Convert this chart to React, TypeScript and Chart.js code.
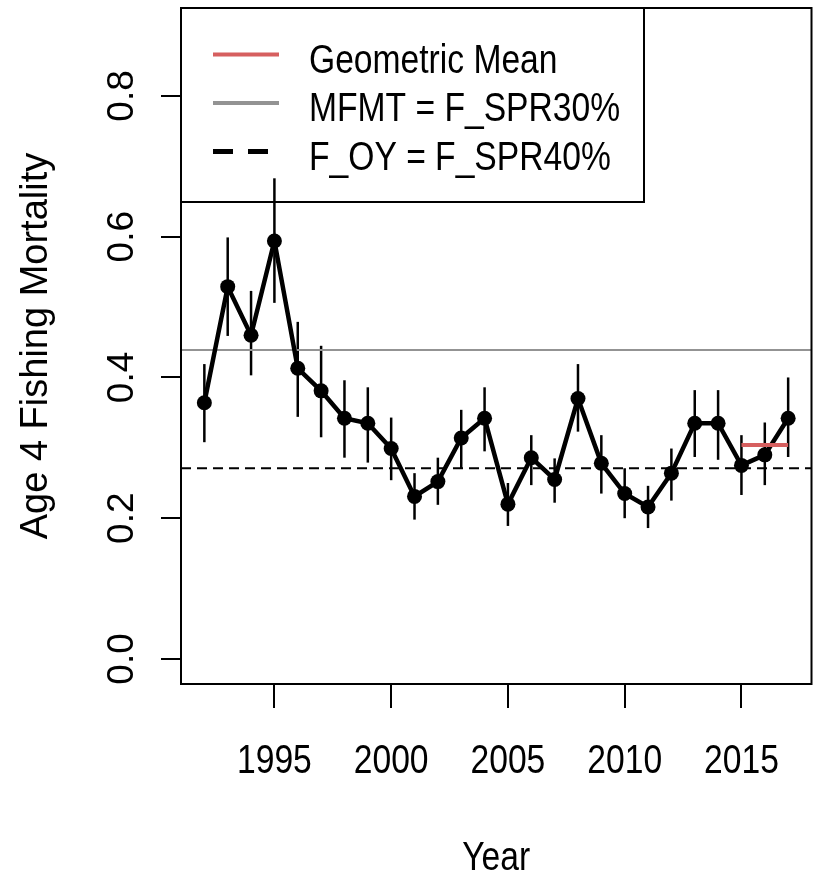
import React, { useEffect, useRef } from "react";
import { Chart, registerables } from "chart.js";

Chart.register(...registerables);

// ---------------- data ----------------
const years = [
  1992, 1993, 1994, 1995, 1996, 1997, 1998, 1999, 2000, 2001, 2002, 2003, 2004,
  2005, 2006, 2007, 2008, 2009, 2010, 2011, 2012, 2013, 2014, 2015, 2016, 2017,
];
const fishingMortality = [
  0.364, 0.529, 0.46, 0.594, 0.413, 0.381, 0.342, 0.335, 0.299, 0.231, 0.252,
  0.314, 0.342, 0.22, 0.286, 0.255, 0.37, 0.278, 0.235, 0.216, 0.264, 0.335,
  0.335, 0.275, 0.29, 0.342,
];
const upperCI = [
  0.419, 0.599, 0.523, 0.683, 0.479, 0.445, 0.396, 0.386, 0.343, 0.264, 0.286,
  0.354, 0.386, 0.25, 0.318, 0.285, 0.419, 0.318, 0.271, 0.246, 0.299, 0.382,
  0.382, 0.318, 0.336, 0.4,
];
const lowerCI = [
  0.308, 0.459, 0.403, 0.506, 0.344, 0.315, 0.286, 0.279, 0.254, 0.198, 0.219,
  0.271, 0.295, 0.189, 0.247, 0.222, 0.323, 0.235, 0.2, 0.186, 0.225, 0.287,
  0.283, 0.233, 0.247, 0.287,
];
const mfmtValue = 0.439; // MFMT = F_SPR30%
const foyValue = 0.271; // F_OY = F_SPR40%
const geoMeanYears = [2015, 2017];
const geoMeanValue = 0.304;

const xTicks = [1995, 2000, 2005, 2010, 2015];
const xTickLabels = ["1995", "2000", "2005", "2010", "2015"];
const yTicks = [0, 0.2, 0.4, 0.6, 0.8];
const yTickLabels = ["0.0", "0.2", "0.4", "0.6", "0.8"];
const legendLabels = ["Geometric Mean", "MFMT = F_SPR30%", "F_OY = F_SPR40%"];
const xTitle = "Year";
const yTitle = "Age 4 Fishing Mortality";

// ---------------- styles ----------------
const FONT = '"Liberation Sans", Arial, Helvetica, sans-serif';
const RED = "#d65f5f";
const GREY = "#939393";
const NARROW = 0.82;

function narrowText(
  ctx: CanvasRenderingContext2D,
  text: string,
  x: number,
  y: number,
  size: number,
  align: CanvasTextAlign
) {
  ctx.save();
  ctx.font = `${size}px ${FONT}`;
  ctx.fillStyle = "#000";
  ctx.textBaseline = "alphabetic";
  ctx.textAlign = align;
  ctx.translate(x, y);
  ctx.scale(NARROW, 1);
  ctx.fillText(text, 0, 0);
  ctx.restore();
}

const rStylePlugin = {
  id: "rStyle",
  beforeDatasetsDraw(chart: any) {
    const { ctx, scales } = chart;
    const xs = scales.x;
    const ys = scales.y;
    ctx.save();
    ctx.strokeStyle = "#000";
    ctx.lineWidth = 2.5;
    ctx.lineCap = "butt";
    years.forEach((yr, i) => {
      const px = xs.getPixelForValue(yr);
      ctx.beginPath();
      ctx.moveTo(px, ys.getPixelForValue(lowerCI[i]));
      ctx.lineTo(px, ys.getPixelForValue(upperCI[i]));
      ctx.stroke();
    });
    ctx.restore();
  },
  afterDraw(chart: any) {
    const { ctx, chartArea, scales } = chart;
    const xs = scales.x;
    const ys = scales.y;
    const { left, top, right, bottom } = chartArea;

    // plot box
    ctx.save();
    ctx.strokeStyle = "#000";
    ctx.lineWidth = 2;
    ctx.strokeRect(left, top, right - left, bottom - top);

    // y tick labels (rotated, like R's las = 0)
    ctx.font = `37px ${FONT}`;
    ctx.fillStyle = "#000";
    yTicks.forEach((v, i) => {
      const py = ys.getPixelForValue(v);
      ctx.save();
      ctx.translate(left - 48, py);
      ctx.rotate(-Math.PI / 2);
      ctx.textAlign = "center";
      ctx.textBaseline = "alphabetic";
      ctx.fillText(yTickLabels[i], 0, 0);
      ctx.restore();
    });

    // x tick labels
    xTicks.forEach((v, i) => {
      narrowText(ctx, xTickLabels[i], xs.getPixelForValue(v), bottom + 89, 41, "center");
    });

    // x title
    narrowText(ctx, xTitle, (left + right) / 2, bottom + 186, 41, "center");

    // legend (transparent background, like R's default)
    const lx = left;
    const ly = top;
    const lw = 463;
    const lh = 194;
    ctx.strokeStyle = "#000";
    ctx.lineWidth = 2;
    ctx.strokeRect(lx, ly, lw, lh);
    const rowGap = 48.5;
    const styles = [
      { color: RED, dash: [] as number[], width: 4 },
      { color: GREY, dash: [] as number[], width: 4 },
      { color: "#000", dash: [20, 15], width: 5 },
    ];
    styles.forEach((s, i) => {
      const yLine = ly + 46.5 + i * rowGap;
      ctx.save();
      ctx.strokeStyle = s.color;
      ctx.lineWidth = s.width;
      ctx.setLineDash(s.dash);
      ctx.beginPath();
      ctx.moveTo(lx + 32, yLine);
      ctx.lineTo(lx + 98, yLine);
      ctx.stroke();
      ctx.restore();
      narrowText(ctx, legendLabels[i], lx + 128, ly + 64.7 + i * rowGap, 41, "left");
    });
    ctx.restore();
  },
};

export default function App() {
  const canvasRef = useRef<HTMLCanvasElement | null>(null);

  useEffect(() => {
    const canvas = canvasRef.current;
    if (!canvas) return;

    const seriesPoints = years.map((yr, i) => ({ x: yr, y: fishingMortality[i] }));

    const chart = new Chart(canvas, {
      type: "line",
      data: {
        datasets: [
          {
            label: legendLabels[0],
            data: geoMeanYears.map((yr) => ({ x: yr, y: geoMeanValue })),
            borderColor: RED,
            borderWidth: 4,
            pointRadius: 0,
            order: 0,
          },
          {
            label: "F",
            data: seriesPoints,
            borderColor: "#000",
            borderWidth: 4.5,
            pointRadius: 7.5,
            pointBorderWidth: 0,
            pointBackgroundColor: "#000",
            tension: 0,
            order: 1,
          },
          {
            label: legendLabels[1],
            data: [
              { x: 1991, y: mfmtValue },
              { x: 2018, y: mfmtValue },
            ],
            borderColor: GREY,
            borderWidth: 2,
            pointRadius: 0,
            order: 2,
          },
          {
            label: legendLabels[2],
            data: [
              { x: 1991, y: foyValue },
              { x: 2018, y: foyValue },
            ],
            borderColor: "#000",
            borderWidth: 2,
            borderDash: [10, 6],
            pointRadius: 0,
            order: 3,
          },
        ],
      },
      options: {
        responsive: false,
        devicePixelRatio: 1,
        animation: false,
        events: [],
        layout: { padding: { left: 0, top: 8, right: 5, bottom: 0 } },
        plugins: {
          legend: { display: false },
          tooltip: { enabled: false },
          title: { display: false },
        },
        scales: {
          x: {
            type: "linear",
            min: 1991,
            max: 2018,
            afterBuildTicks: (scale: any) => {
              scale.ticks = xTicks.map((v) => ({ value: v }));
            },
            afterFit: (scale: any) => {
              scale.height = 191;
            },
            grid: {
              drawOnChartArea: false,
              drawTicks: true,
              tickLength: 24,
              color: "#000",
              lineWidth: 2,
            },
            border: { display: false },
            ticks: { display: false },
          },
          y: {
            type: "linear",
            min: -0.0356,
            max: 0.925,
            afterBuildTicks: (scale: any) => {
              scale.ticks = yTicks.map((v) => ({ value: v }));
            },
            afterFit: (scale: any) => {
              scale.width = 181;
            },
            grid: {
              drawOnChartArea: false,
              drawTicks: true,
              tickLength: 20,
              color: "#000",
              lineWidth: 2,
            },
            border: { display: false },
            ticks: { display: false },
            title: {
              display: true,
              text: yTitle,
              color: "#000",
              font: { family: FONT, size: 38, lineHeight: 1 },
              padding: { top: 18, bottom: 0 },
            },
          },
        },
      },
      plugins: [rStylePlugin],
    } as any);

    return () => {
      chart.destroy();
    };
  }, []);

  return (
    <div
      style={{
        position: "fixed",
        left: 0,
        top: 0,
        width: 819,
        height: 875,
        background: "#fff",
      }}
    >
      <canvas
        ref={canvasRef}
        width={819}
        height={875}
        style={{ display: "block", width: "819px", height: "875px" }}
      />
    </div>
  );
}
